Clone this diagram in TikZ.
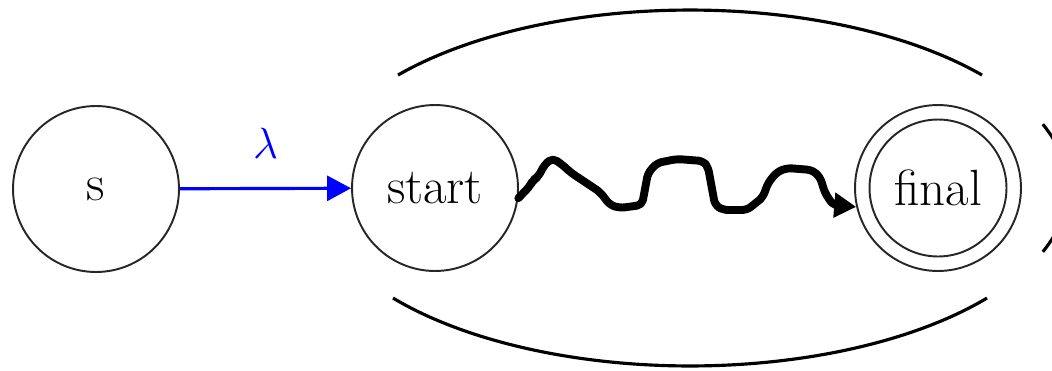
\documentclass[tikz,border=0pt]{standalone}
\usetikzlibrary{arrows.meta}
\begin{document}
\begin{tikzpicture}[x=0.02cm,y=0.02cm,
  state/.style={circle,draw=black!85,line width=1.1pt,inner sep=0pt,minimum size=3.32cm,font=\fontsize{29}{35}\selectfont},
  innerring/.style={circle,draw=black!85,line width=1.1pt,inner sep=0pt,minimum size=2.74cm},
  blueedge/.style={draw=blue,line width=1.8pt,-{Triangle[length=0.48cm,width=0.5cm]}},
  wavy/.style={draw=black,line width=4.5pt,line cap=round,line join=round,rounded corners=0.1cm,-{Triangle[length=0.44cm,width=0.48cm]}},
  ring/.style={draw=black,line width=1.8pt}]
\useasboundingbox (0,0) rectangle (1052,370);
\node[state] (s) at (96,181) {s};
\node[state] (start) at (435,182) {start};
\node[state] (final) at (938,182) {final};
\node[innerring] (finalin) at (938,182) {};
\coordinate (E) at (690,182);
% outer ellipse, partly hidden
\draw[ring] ([shift={(39.4:7.56cm and 3.56cm)}]E) arc[start angle=39.4,end angle=140.6,x radius=7.56cm,y radius=3.56cm];
\draw[ring] ([shift={(218.2:7.56cm and 3.56cm)}]E) arc[start angle=218.2,end angle=321.8,x radius=7.56cm,y radius=3.56cm];
\draw[ring] ([shift={(-21:7.56cm and 3.56cm)}]E) arc[start angle=-21,end angle=21,x radius=7.56cm,y radius=3.56cm];
% lambda transition
\draw[blueedge] (s) -- node[above=0.45cm,text=blue,font=\fontsize{29}{35}\selectfont] (lam) {$\lambda$} (start);
% squiggly path
\draw[wavy] (start.-7) -- (530,184) -- (533,190) -- (538,193) -- (545,206) -- (553,212) -- (565,203) -- (570,198)
  -- (600,178) -- (610,165) -- (620,162) -- (642,165) -- (648,197) -- (657,207)
  -- (677,211) -- (703,209) -- (708,203) -- (715,165) -- (723,160) -- (747,160)
  -- (757,168) -- (763,173) -- (768,187) -- (777,198) -- (787,202) -- (812,200)
  -- (820,193) -- (825,177) -- (833,165) -- (final.193);
\end{tikzpicture}
\end{document}
